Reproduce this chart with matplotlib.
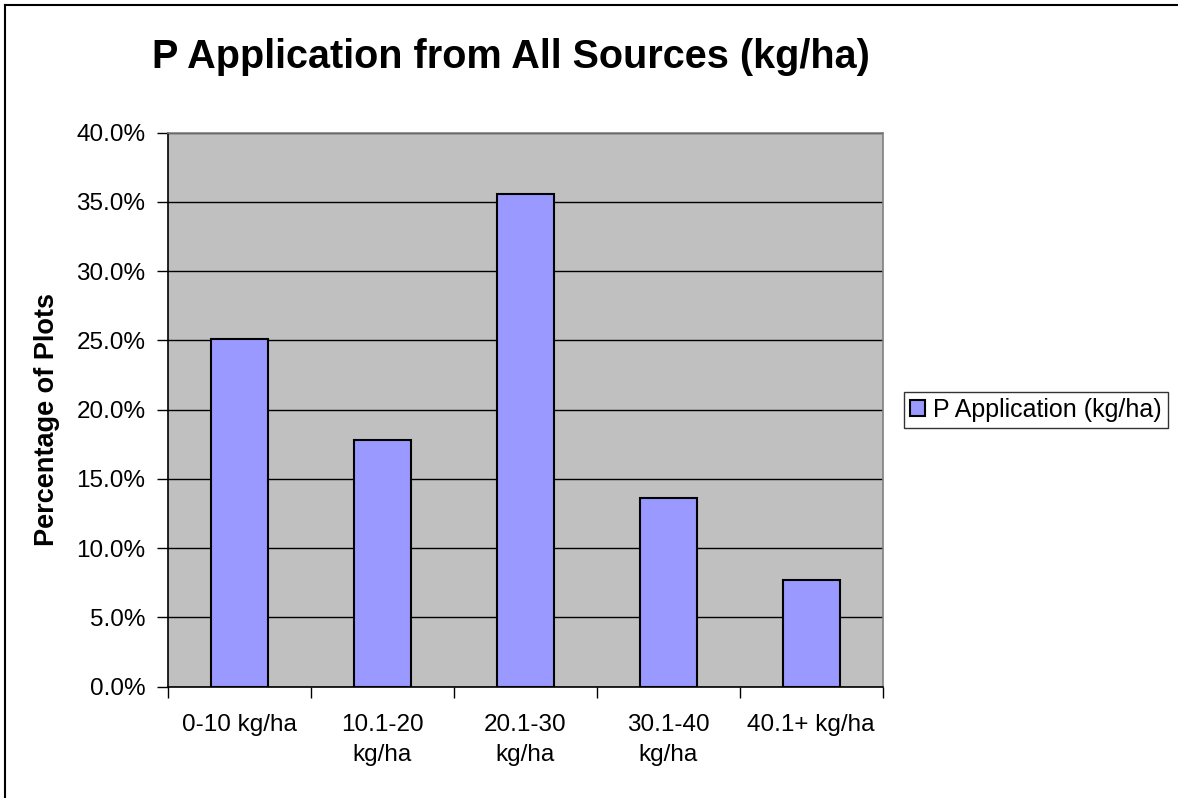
import matplotlib
matplotlib.use("Agg")
import matplotlib.pyplot as plt
from matplotlib.lines import Line2D
from matplotlib.ticker import FuncFormatter, FixedLocator
import numpy as np

categories = ["0-10 kg/ha", "10.1-20\nkg/ha", "20.1-30\nkg/ha", "30.1-40\nkg/ha", "40.1+ kg/ha"]
values = [25.1, 17.8, 35.6, 13.6, 7.7]
series_name = "P Application (kg/ha)"
title = "P Application from All Sources (kg/ha)"
ylabel = "Percentage of Plots"
yticks = [0, 5, 10, 15, 20, 25, 30, 35, 40]

plt.rcParams['font.family'] = ['Liberation Sans', 'DejaVu Sans']

W, H = 1178, 798
fig = plt.figure(figsize=(W / 100, H / 100), dpi=100)
fig.patch.set_facecolor('white')

ax = fig.add_axes([167.7 / W, 1 - 686.7 / H, (882.7 - 167.7) / W, (686.7 - 132.7) / H])
ax.set_facecolor('#C0C0C0')

x = np.arange(len(categories))
ax.bar(x, values, width=0.4, color='#9999FF', edgecolor='black', linewidth=1.5,
       label=series_name, zorder=3)

ax.set_xlim(-0.5, len(categories) - 0.5)
ax.set_ylim(0, 40)

ax.yaxis.set_major_locator(FixedLocator(yticks))
ax.yaxis.set_major_formatter(FuncFormatter(lambda v, p: f"{v:.1f}%"))
ax.grid(axis='y', color='black', linewidth=1.0, zorder=1)
ax.set_axisbelow(True)

# x ticks at category boundaries, labels at centers
ax.set_xticks(np.arange(-0.5, len(categories)), minor=False)
ax.set_xticklabels([])
ax.set_xticks(x, minor=True)
ax.set_xticklabels(categories, minor=True, fontsize=17.5, linespacing=1.45)
ax.tick_params(axis='x', which='major', direction='out', length=8, width=1, color='black')
ax.tick_params(axis='x', which='minor', length=0, pad=20)
ax.tick_params(axis='y', direction='out', length=8, width=1, color='black', labelsize=17.5, pad=8)

for s in ['top', 'right']:
    ax.spines[s].set_color('#808080')
    ax.spines[s].set_linewidth(1.2)
for s in ['left', 'bottom']:
    ax.spines[s].set_color('black')
    ax.spines[s].set_linewidth(1.2)

fig.text(511 / W, 1 - 57 / H, title, ha='center', va='center', fontsize=28.5, fontweight='bold')
fig.text(47 / W, 1 - 420 / H, ylabel, ha='center', va='center', rotation=90,
         fontsize=19.5, fontweight='bold')

leg = fig.legend(loc='center left', bbox_to_anchor=(904 / W, 1 - 410 / H), fontsize=18,
                 frameon=True, fancybox=False, edgecolor='black', borderpad=0.25,
                 handlelength=0.6, handleheight=0.6, handletextpad=0.3, borderaxespad=0)
leg.get_frame().set_linewidth(1.0)

# outer chart border (top and left visible)
fig.add_artist(Line2D([5 / W, 5 / W], [0, 1 - 5 / H], transform=fig.transFigure, color='black', linewidth=1.5))
fig.add_artist(Line2D([5 / W, 1], [1 - 5 / H, 1 - 5 / H], transform=fig.transFigure, color='black', linewidth=1.5))

fig.savefig('out.png', dpi=100)
